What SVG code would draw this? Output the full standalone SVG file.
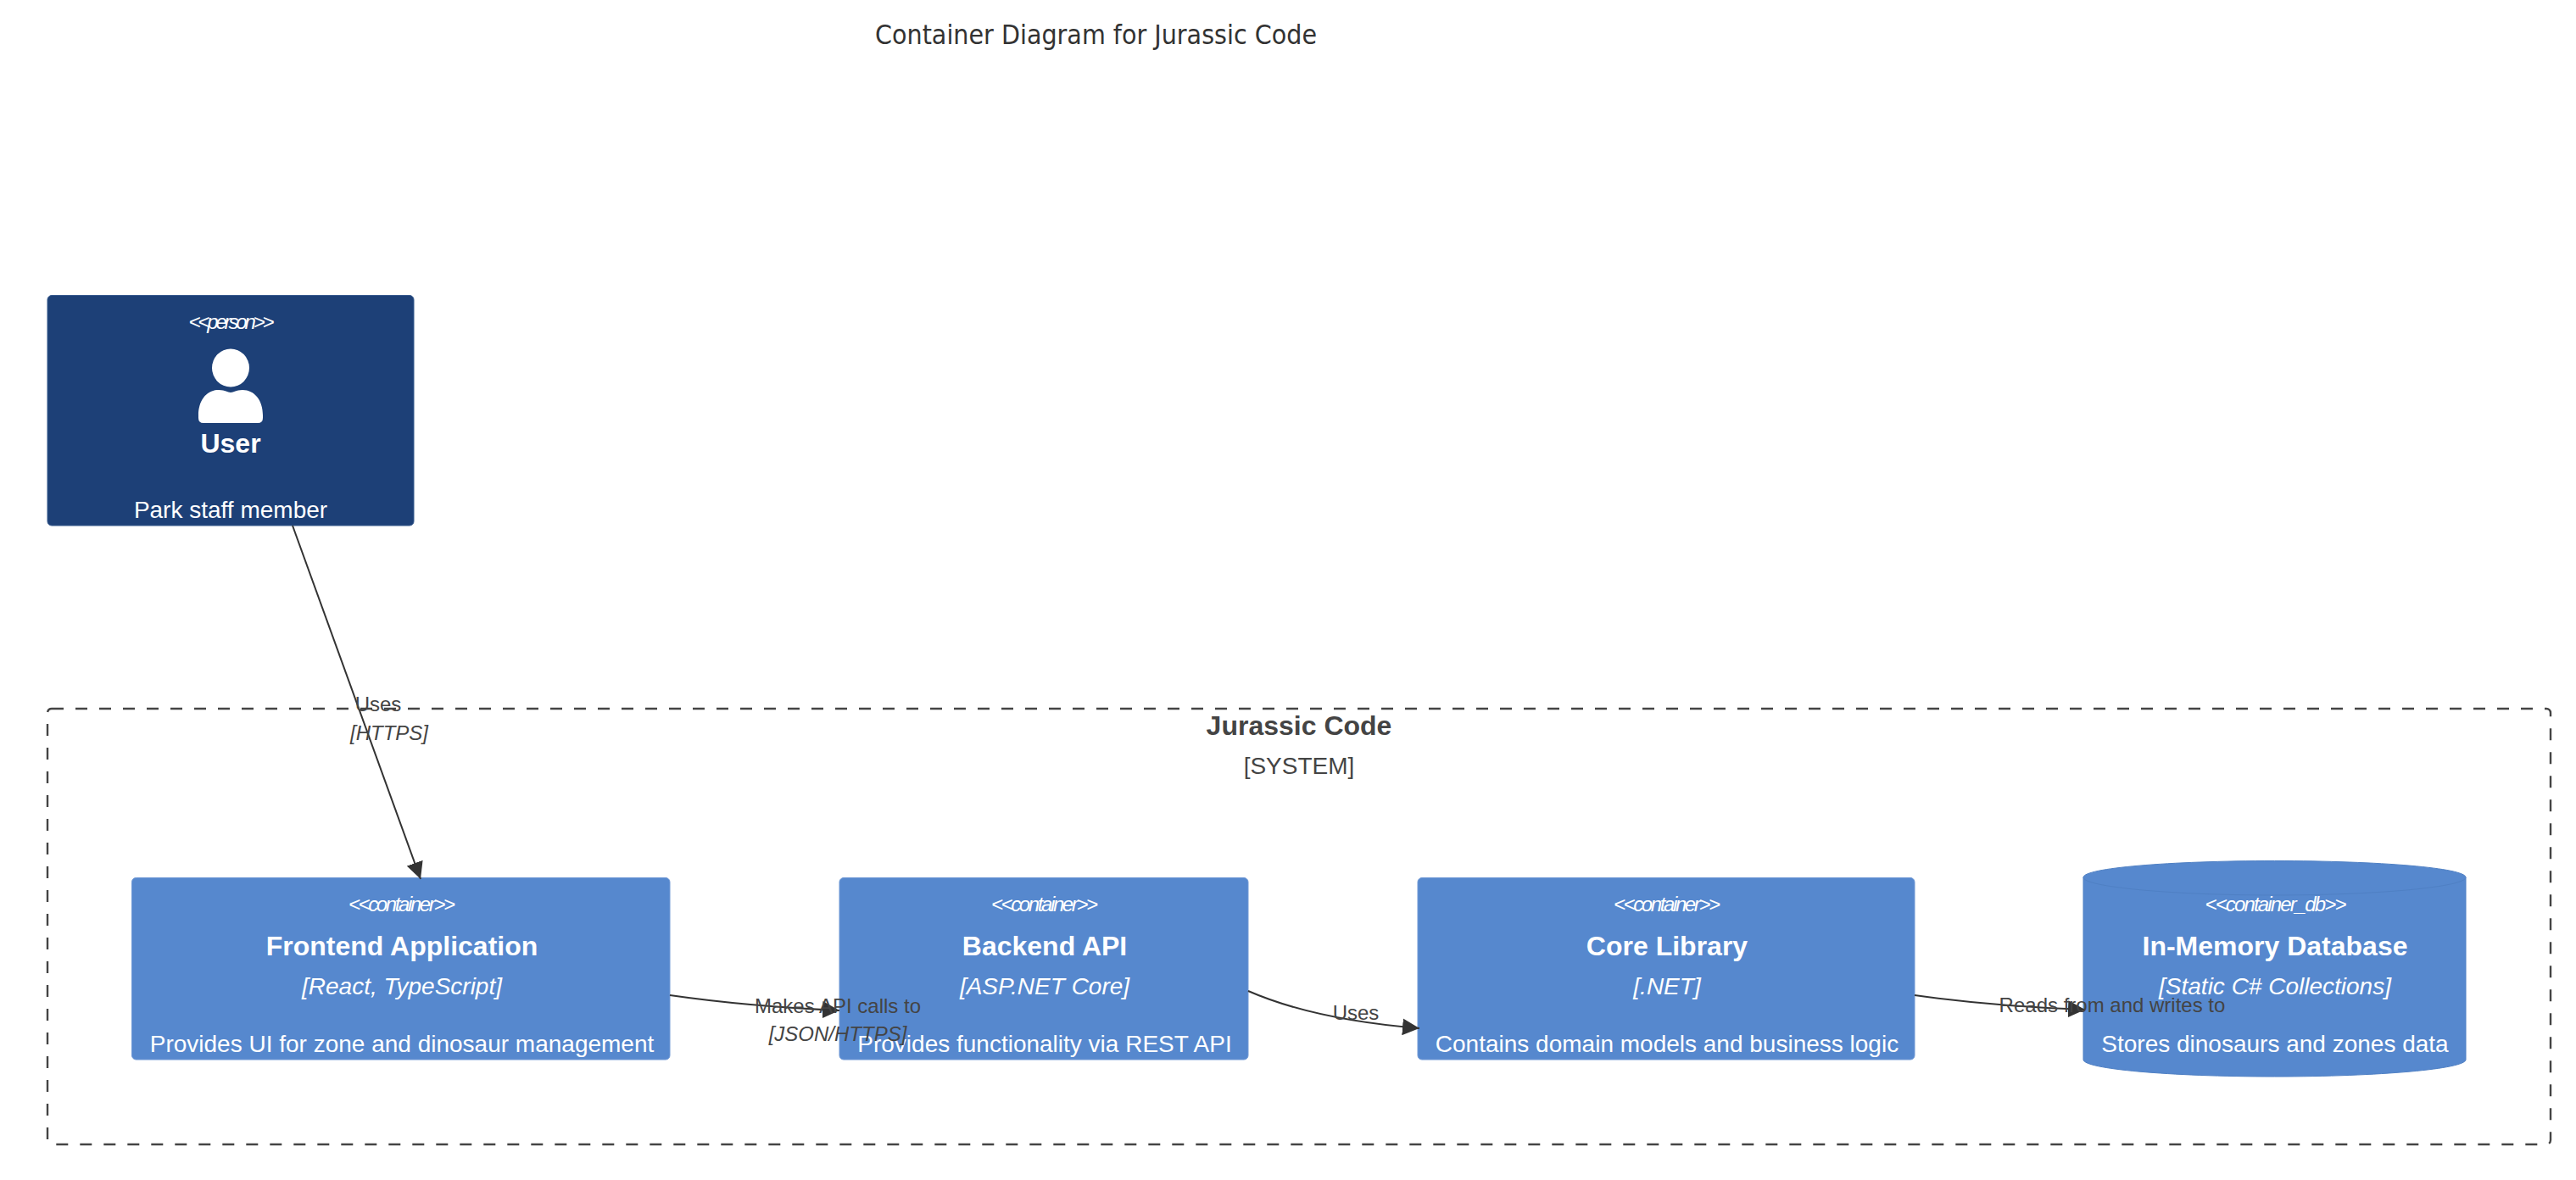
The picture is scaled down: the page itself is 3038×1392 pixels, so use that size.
<svg xmlns="http://www.w3.org/2000/svg" width="3038" height="1392" viewBox="0 0 3038 1392">
<style>
text{font-family:"Liberation Sans",Arial,sans-serif;text-anchor:middle}
.title{font-family:"DejaVu Sans",sans-serif;font-stretch:condensed;font-size:32px;fill:#333}
.w{fill:#fff}
.stereo{font-size:24px;font-style:italic}
.name{font-size:32px;font-weight:bold}
.tech{font-size:28px;font-style:italic}
.desc{font-size:28px}
.box{fill:#5688ce;stroke:#7099d6;stroke-width:1}
.cyl{fill:#5688ce;stroke:#4f80c4;stroke-width:1}
.edge{fill:none;stroke:#333;stroke-width:2;marker-end:url(#arrow)}
.el{font-size:24px;fill:#444}
.eli{font-size:24px;font-style:italic;fill:#444}
</style>
<defs>
<marker id="arrow" viewBox="0 0 10 10" refX="10" refY="5" markerWidth="10" markerHeight="10" orient="auto"><path d="M0,0L10,5L0,10z" fill="#333"/></marker>
</defs>
<rect width="3038" height="1392" fill="#fff"/>
<text class="title" x="1292.500" y="52" textLength="521" lengthAdjust="spacingAndGlyphs">Container Diagram for Jurassic Code</text>
<g id="boundary">
<rect x="56" y="836" width="2952" height="514" rx="5" fill="none" stroke="#444" stroke-width="2.400" stroke-dasharray="14 14"/>
<text x="1532" y="867" font-size="32" font-weight="bold" fill="#444">Jurassic Code</text>
<text x="1532" y="913" font-size="28" fill="#444">[SYSTEM]</text>
</g>
<g id="user">
<rect x="56" y="348.500" width="432" height="271.500" rx="5" fill="#1d4077" stroke="#35588c" stroke-width="1"/>
<text class="w stereo" x="273" y="388" textLength="101">&lt;&lt;person&gt;&gt;</text>
<ellipse cx="272" cy="434" rx="22" ry="22.500" fill="#fff"/>
<path d="M234,490C234,472 244,460 258,460C266,460 268,463 272,463C276,463 278,460 286,460C300,460 310,472 310,490L310,493Q310,499 304,499L240,499Q234,499 234,493Z" fill="#fff"/>
<text class="w name" x="272" y="534">User</text>
<text class="w desc" x="272" y="611">Park staff member</text>
</g>
<g id="frontend">
<rect class="box" x="155.500" y="1035.500" width="634.500" height="214.500" rx="5"/>
<text class="w stereo" x="474" y="1075" textLength="126">&lt;&lt;container&gt;&gt;</text>
<text class="w name" x="474" y="1127">Frontend Application</text>
<text class="w tech" x="474" y="1173">[React, TypeScript]</text>
<text class="w desc" x="474" y="1241">Provides UI for zone and dinosaur management</text>
</g>
<g id="backend">
<rect class="box" x="990" y="1035.500" width="482" height="214.500" rx="5"/>
<text class="w stereo" x="1232" y="1075" textLength="126">&lt;&lt;container&gt;&gt;</text>
<text class="w name" x="1232" y="1127">Backend API</text>
<text class="w tech" x="1232" y="1173">[ASP.NET Core]</text>
<text class="w desc" x="1232" y="1241">Provides functionality via REST API</text>
</g>
<g id="core">
<rect class="box" x="1672" y="1035.500" width="586" height="214.500" rx="5"/>
<text class="w stereo" x="1966" y="1075" textLength="126">&lt;&lt;container&gt;&gt;</text>
<text class="w name" x="1966" y="1127">Core Library</text>
<text class="w tech" x="1966" y="1173">[.NET]</text>
<text class="w desc" x="1966" y="1241">Contains domain models and business logic</text>
</g>
<g id="database">
<path class="cyl" d="M2457,1035C2457,1024 2558,1015.500 2682.500,1015.500C2807,1015.500 2908,1024 2908,1035L2908,1250C2908,1261 2807,1270 2682.500,1270C2558,1270 2457,1261 2457,1250Z"/>
<path class="cyl" style="fill:none" d="M2457,1035C2457,1046 2558,1056 2682.500,1056C2807,1056 2908,1046 2908,1035"/>
<text class="w stereo" x="2684" y="1075" textLength="167">&lt;&lt;container_db&gt;&gt;</text>
<text class="w name" x="2683" y="1127">In-Memory Database</text>
<text class="w tech" x="2683" y="1173">[Static C# Collections]</text>
<text class="w desc" x="2683" y="1241">Stores dinosaurs and zones data</text>
</g>
<g id="connectors">
<path class="edge" d="M345,620L496,1037"/>
<path class="edge" d="M790,1174Q880,1187 990,1192"/>
<path class="edge" d="M1472,1169Q1550,1203 1674,1213"/>
<path class="edge" d="M2258,1174Q2350,1187 2459,1191"/>
<text class="el" x="446" y="839">Uses</text>
<text class="eli" x="459" y="873">[HTTPS]</text>
<text class="el" x="988" y="1195">Makes API calls to</text>
<text class="eli" x="988" y="1228">[JSON/HTTPS]</text>
<text class="el" x="1599" y="1203">Uses</text>
<text class="el" x="2491" y="1194">Reads from and writes to</text>
</g>
</svg>
